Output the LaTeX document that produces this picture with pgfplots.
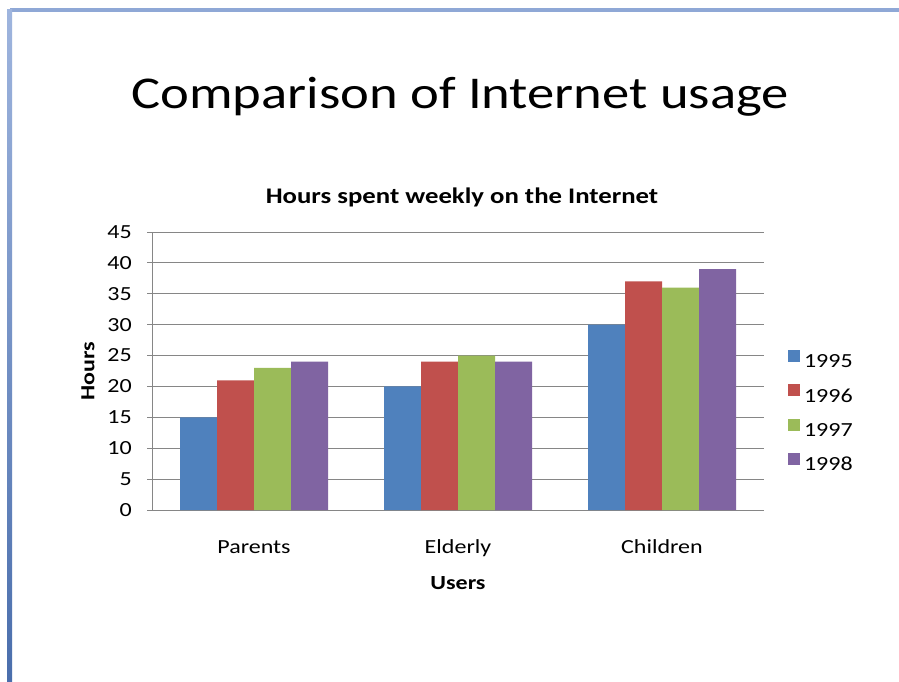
\documentclass[border=0pt]{standalone}
\usepackage{pgfplots}
\pgfplotsset{compat=1.18}
\usepackage{fontspec}
\setmainfont{Carlito}[FakeStretch=1.2]
\definecolor{cA}{HTML}{4F81BD}
\definecolor{cB}{HTML}{C0504D}
\definecolor{cC}{HTML}{9BBB59}
\definecolor{cD}{HTML}{8064A2}
\definecolor{topline}{HTML}{8FA8D6}
\definecolor{leftA}{HTML}{9FB5DE}
\definecolor{leftB}{HTML}{4A6EAC}
\definecolor{gridc}{HTML}{868686}
\begin{document}
\begin{tikzpicture}
\path[use as bounding box] (0pt,0pt) rectangle (899pt,-681pt);
\fill[white] (0pt,0pt) rectangle (899pt,-681pt);
\fill[topline] (10pt,-8pt) rectangle (899pt,-12pt);
\shade[top color=leftA, bottom color=leftB] (7pt,-9pt) rectangle (12pt,-681pt);
\node[anchor=base, inner sep=0pt, font=\fontsize{45.5}{50}\selectfont] at (460pt,-108pt) {Comparison of Internet usage};
\node[anchor=base, inner sep=0pt, font=\fontsize{22.3}{26}\selectfont\bfseries] at (462pt,-203pt) {Hours spent weekly on the Internet};
\begin{axis}[
  at={(152pt,-510pt)}, anchor=south west,
  scale only axis, width=612pt, height=278pt,
  ybar=0pt, bar width=37pt,
  ymin=0, ymax=45, ytick={0,5,...,45},
  xmin=-0.5, xmax=2.5, xtick=data,
  xticklabels={Parents,Elderly,Children},
  enlargelimits=false,
  axis lines*=left,
  axis line style={gridc, line width=1pt},
  ymajorgrids, grid style={gridc, line width=1pt},
  tick align=outside, major tick length=5pt,
  xtick style={draw=none},
  ytick style={gridc, line width=1pt},
  /pgf/number format/assume math mode=true,
  tick label style={font=\fontsize{20}{24}\selectfont},
  yticklabel style={anchor=east, inner sep=0pt, xshift=-15pt},
  xticklabel style={anchor=base, inner sep=0pt, yshift=-38pt},
  xlabel={Users}, ylabel={Hours},
  label style={font=\fontsize{20}{24}\selectfont\bfseries},
  xlabel style={at={(axis description cs:0.5,-0.262)}, anchor=center},
  ylabel style={at={(axis description cs:-0.1046,0.5)}, anchor=center, rotate=0},
  legend style={at={(1.034,0.356)}, anchor=west, draw=none, fill=none,
    font=\fontsize{20}{24}\selectfont, row sep=15pt, column sep=4pt,
    nodes={inner sep=0pt}},
  legend cell align=left,
  legend image code/.code={\fill[#1] (0pt,0pt) rectangle (12pt,12pt);},
]
\addplot[fill=cA, draw=none] coordinates {(0,15) (1,20) (2,30)};
\addplot[fill=cB, draw=none] coordinates {(0,21) (1,24) (2,37)};
\addplot[fill=cC, draw=none] coordinates {(0,23) (1,25) (2,36)};
\addplot[fill=cD, draw=none] coordinates {(0,24) (1,24) (2,39)};
\legend{1995,1996,1997,1998}
\end{axis}
\end{tikzpicture}
\end{document}
